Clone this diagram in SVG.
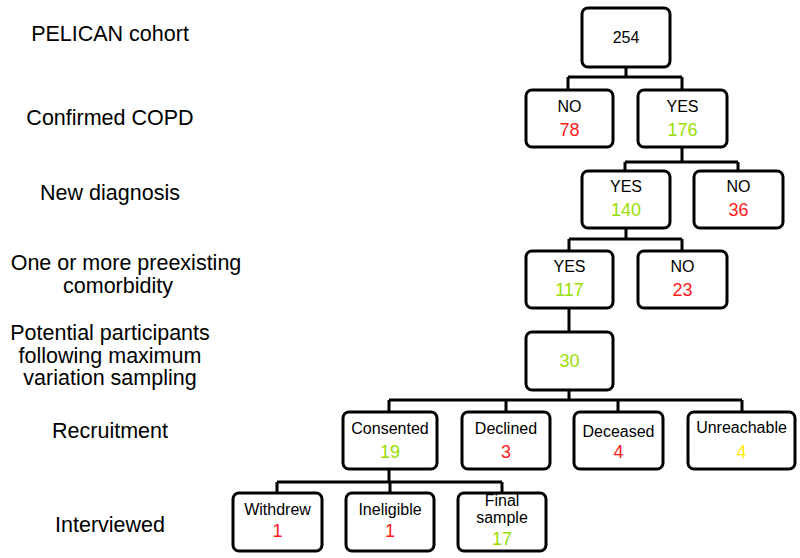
<svg xmlns="http://www.w3.org/2000/svg" width="800" height="558" viewBox="0 0 800 558">
<style>
.box{fill:#fff;stroke:#000;stroke-width:3}
.lbl{font-family:"Liberation Sans",Arial,sans-serif;font-size:16px;fill:#000;text-anchor:middle}
.num{font-family:"Liberation Sans",Arial,sans-serif;font-size:18px;text-anchor:middle}
.g{fill:#99dd00}.r{fill:#ff1a1a}.y{fill:#ffee00}
.side{font-family:"Liberation Sans",Arial,sans-serif;font-size:21.5px;fill:#000;text-anchor:middle}
.conn{fill:none;stroke:#000;stroke-width:3}
</style>
<rect width="800" height="558" fill="#fff"/>
<g id="side-labels">
<text class="side" x="110" y="41">PELICAN cohort</text>
<text class="side" x="110" y="125">Confirmed COPD</text>
<text class="side" x="110" y="200">New diagnosis</text>
<text class="side" x="126" y="270">One or more preexisting</text>
<text class="side" x="118" y="293">comorbidity</text>
<text class="side" x="110" y="340">Potential participants</text>
<text class="side" x="110" y="363">following maximum</text>
<text class="side" x="110" y="385">variation sampling</text>
<text class="side" x="110" y="438">Recruitment</text>
<text class="side" x="110" y="532">Interviewed</text>
</g>
<g id="connectors">
<path class="conn" d="M626 67V77M568 77H682M568 77V90M682 77V90"/>
<path class="conn" d="M682 147V162M625 162H738M625 162V171M738 162V171"/>
<path class="conn" d="M626 228V239M569 239H682M569 239V251M682 239V251"/>
<path class="conn" d="M569 308V332"/>
<path class="conn" d="M569 390V400M389 400H742M389 400V412M506 400V412M618 400V412M742 400V412"/>
<path class="conn" d="M389 469V482M277 482H502M277 482V493M390 482V493M502 482V493"/>
</g>
<g id="n254"><rect class="box" x="582" y="8" width="88" height="59" rx="6"/><text class="lbl" x="626" y="43">254</text></g>
<g id="copd-no"><rect class="box" x="526" y="90" width="87" height="57" rx="6"/><text class="lbl" x="569.5" y="112">NO</text><text class="num r" x="569.5" y="136">78</text></g>
<g id="copd-yes"><rect class="box" x="638" y="90" width="89" height="57" rx="6"/><text class="lbl" x="682.5" y="112">YES</text><text class="num g" x="682.5" y="136">176</text></g>
<g id="new-yes"><rect class="box" x="582" y="171" width="88" height="57" rx="6"/><text class="lbl" x="626" y="192">YES</text><text class="num g" x="626" y="216">140</text></g>
<g id="new-no"><rect class="box" x="694" y="171" width="89" height="57" rx="6"/><text class="lbl" x="738.5" y="192">NO</text><text class="num r" x="738.5" y="216">36</text></g>
<g id="com-yes"><rect class="box" x="526" y="251" width="87" height="57" rx="6"/><text class="lbl" x="569.5" y="272">YES</text><text class="num g" x="569.5" y="296">117</text></g>
<g id="com-no"><rect class="box" x="638" y="251" width="89" height="57" rx="6"/><text class="lbl" x="682.5" y="272">NO</text><text class="num r" x="682.5" y="296">23</text></g>
<g id="n30"><rect class="box" x="526" y="332" width="87" height="58" rx="6"/><text class="num g" x="569.5" y="367">30</text></g>
<g id="consented"><rect class="box" x="343" y="412" width="94" height="57" rx="6"/><text class="lbl" x="390" y="434">Consented</text><text class="num g" x="390" y="458">19</text></g>
<g id="declined"><rect class="box" x="462" y="412" width="88" height="57" rx="6"/><text class="lbl" x="506" y="434">Declined</text><text class="num r" x="506" y="458">3</text></g>
<g id="deceased"><rect class="box" x="574" y="412" width="89" height="57" rx="6"/><text class="lbl" x="618.5" y="437">Deceased</text><text class="num r" x="618.5" y="458">4</text></g>
<g id="unreachable"><rect class="box" x="688" y="412" width="107" height="57" rx="6"/><text class="lbl" x="741.5" y="433">Unreachable</text><text class="num y" x="741.5" y="458">4</text></g>
<g id="withdrew"><rect class="box" x="233" y="493" width="89" height="58" rx="6"/><text class="lbl" x="277.5" y="515">Withdrew</text><text class="num r" x="277.5" y="537">1</text></g>
<g id="ineligible"><rect class="box" x="346" y="493" width="88" height="58" rx="6"/><text class="lbl" x="390" y="515">Ineligible</text><text class="num r" x="390" y="537">1</text></g>
<g id="final"><rect class="box" x="458" y="493" width="88" height="58" rx="6"/><text class="lbl" x="502" y="506">Final</text><text class="lbl" x="502" y="523">sample</text><text class="num g" x="502" y="545">17</text></g>
</svg>
